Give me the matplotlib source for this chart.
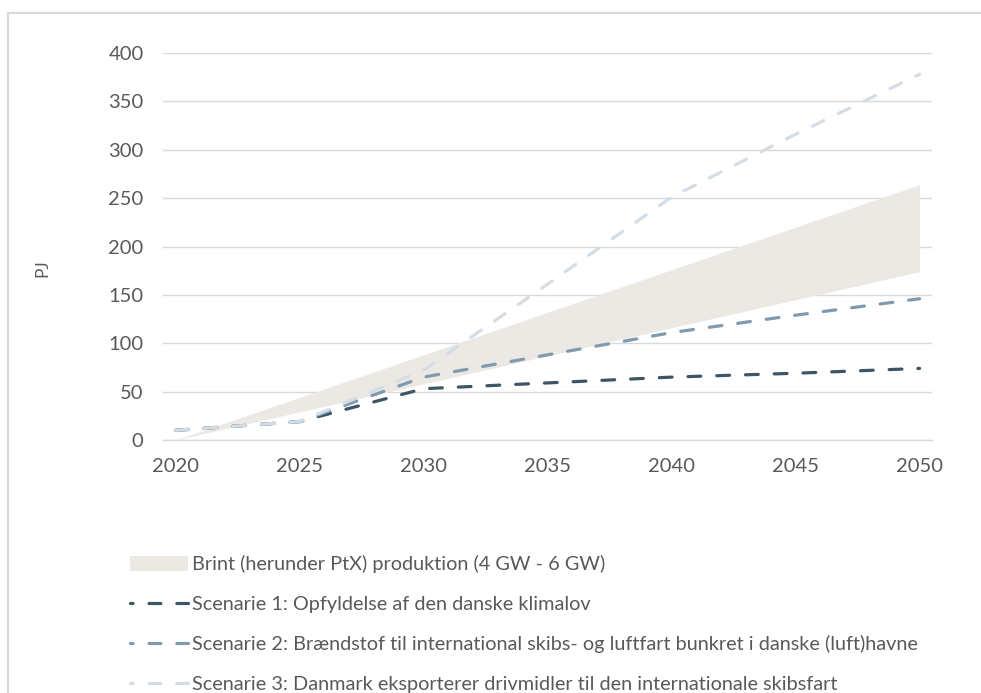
import matplotlib
matplotlib.use("Agg")
import matplotlib.pyplot as plt
from matplotlib.patches import Rectangle
from matplotlib.lines import Line2D

years = [2020, 2025, 2030, 2035, 2040, 2045, 2050]
band_years = [2020, 2050]
band_low = [0, 174]
band_high = [0, 264]
scen1 = [10, 19, 53, 59, 65, 69, 74]
scen2 = [10, 19, 65, 88, 111, 129, 146]
scen3 = [10, 19, 72, 161, 251, 316, 378]
xticks = [2020, 2025, 2030, 2035, 2040, 2045, 2050]
yticks = [0, 50, 100, 150, 200, 250, 300, 350, 400]

labels = [
    "Brint (herunder PtX) produktion (4 GW - 6 GW)",
    "Scenarie 1: Opfyldelse af den danske klimalov",
    "Scenarie 2: Brændstof til international skibs- og luftfart bunkret i danske (luft)havne",
    "Scenarie 3: Danmark eksporterer drivmidler til den internationale skibsfart",
]
c_band = "#ece9e4"
c1 = "#3e5565"
c2 = "#7f9bb0"
c3 = "#d3dde6"
txt = "#595959"
grid = "#d9d9d9"

plt.rcParams['font.family'] = ['Lato', 'DejaVu Sans']

fig = plt.figure(figsize=(9.81, 6.93), dpi=100)
ax = fig.add_axes([163/981, 1-440/693, (932-163)/981, (440-53)/693])

ax.fill_between(band_years, band_low, band_high, color=c_band, lw=0, zorder=1)
dash = (0, (4, 5))
for ys, c in [(scen1, c1), (scen2, c2), (scen3, c3)]:
    ax.plot(years, ys, color=c, lw=2.3, linestyle=dash, dash_capstyle='round',
            solid_capstyle='round', zorder=3)

ax.set_xlim(2019.5, 2050.5)
ax.set_ylim(0, 400)
ax.set_xticks(xticks)
ax.set_yticks(yticks)
ax.tick_params(length=0, labelsize=14.5, colors=txt)
ax.tick_params(axis='y', pad=14)
ax.tick_params(axis='x', pad=13)
for s in ['top', 'right', 'left']:
    ax.spines[s].set_visible(False)
ax.spines['bottom'].set_color(grid)
ax.spines['bottom'].set_linewidth(1.0)
ax.yaxis.grid(True, color=grid, lw=1.0)
ax.set_axisbelow(True)
fig.text(42/981, 1-268/693, "PJ", rotation=90, fontsize=12.5, color=txt,
         ha='center', va='center')

# legend
ldash = (2.9, (3.7, 5))
handles = [Rectangle((0, 0), 1, 1, color=c_band, lw=0),
           Line2D([], [], color=c1, lw=2.3, linestyle=ldash, dash_capstyle='round'),
           Line2D([], [], color=c2, lw=2.3, linestyle=ldash, dash_capstyle='round'),
           Line2D([], [], color=c3, lw=2.3, linestyle=ldash, dash_capstyle='round')]
leg = fig.legend(handles, labels, loc='upper left', bbox_to_anchor=(130/981, 1-555/693),
                 frameon=False, fontsize=14.3, labelcolor=txt, handlelength=2.9,
                 handleheight=0.8, handletextpad=0.2, labelspacing=1.12,
                 borderaxespad=0, borderpad=0)

# outer border
fig.add_artist(Line2D([8/981, 8/981], [0, 1-13/693], color=grid, lw=1.5,
                      transform=fig.transFigure))
fig.add_artist(Line2D([8/981, 1], [1-13/693, 1-13/693], color=grid, lw=1.5,
                      transform=fig.transFigure))

fig.savefig("out.png", dpi=100)
